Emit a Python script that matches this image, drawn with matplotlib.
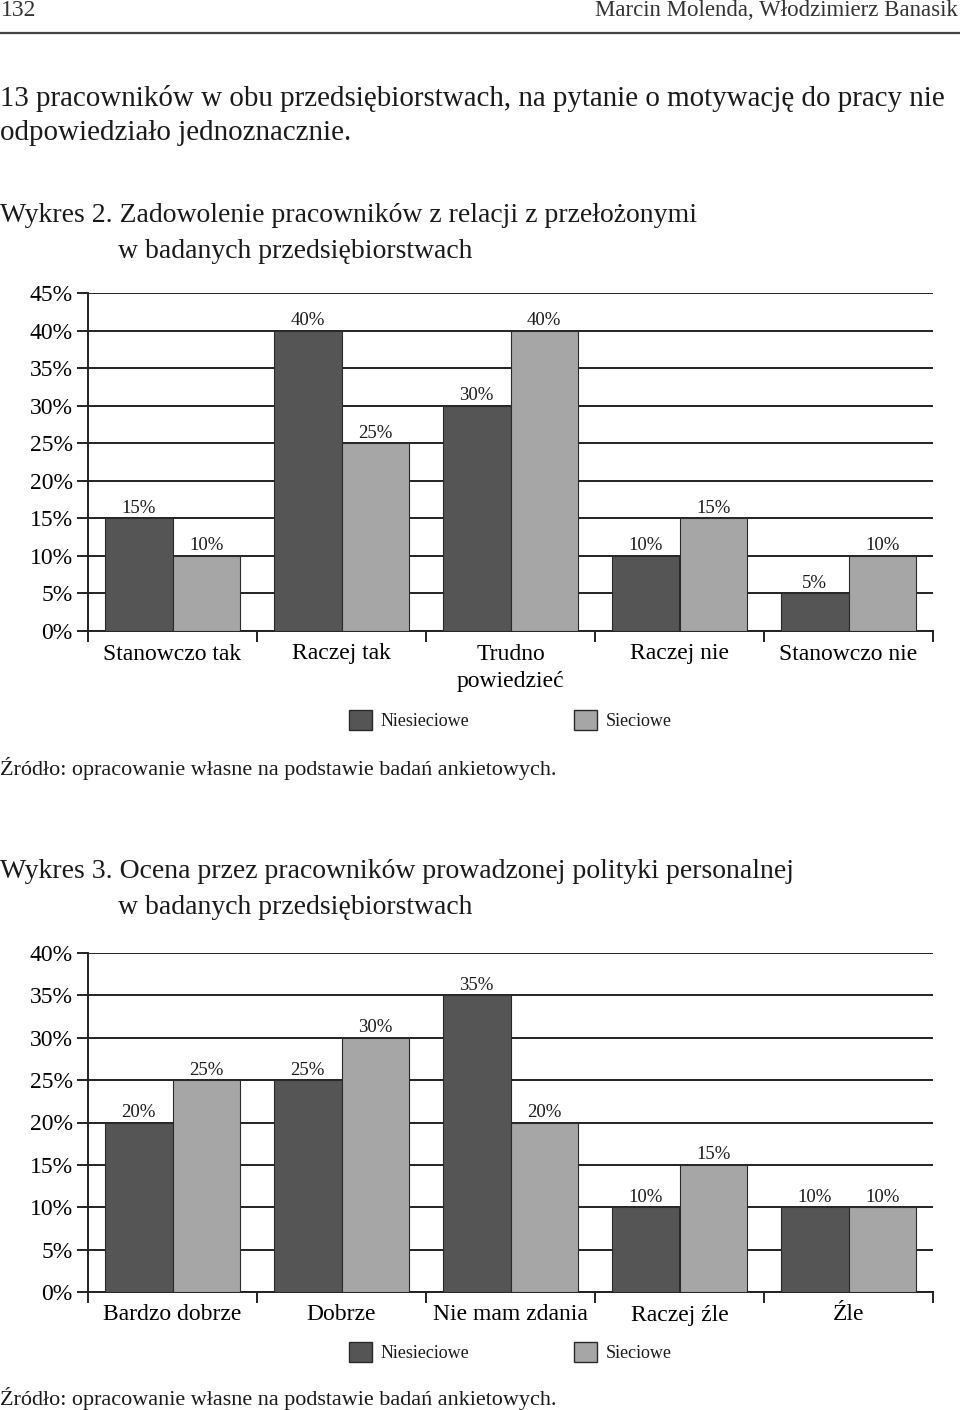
import numpy as np
import matplotlib
matplotlib.use("Agg")
import matplotlib.pyplot as plt
from matplotlib.patches import Patch

# page size in pixels
W, H = 960, 1410

# Wykres 2
cats_w2 = ["Stanowczo tak", "Raczej tak", "Trudno\npowiedzieć", "Raczej nie", "Stanowczo nie"]
niesieciowe_w2 = [15, 40, 30, 10, 5]
sieciowe_w2 = [10, 25, 40, 15, 10]

# Wykres 3
cats_w3 = ["Bardzo dobrze", "Dobrze", "Nie mam zdania", "Raczej źle", "Źle"]
niesieciowe_w3 = [20, 25, 35, 10, 10]
sieciowe_w3 = [25, 30, 20, 15, 10]

DARK = "#555555"
LIGHT = "#a6a6a6"
INK = "#1a1a1a"

plt.rcParams["font.family"] = ["Liberation Serif", "DejaVu Serif"]
plt.rcParams["text.color"] = INK


def fy(y):
    # pixel row -> figure fraction
    return 1 - y / H


def draw_chart(fig, top, bottom, ymax, cats, dark, light, legend_y):
    ax = fig.add_axes([88 / W, fy(bottom), (933 - 88) / W, (bottom - top) / H])
    x = np.arange(len(cats))
    b1 = ax.bar(x - 0.2, dark, 0.4, color=DARK, edgecolor="#2a2a2a", linewidth=0.8, zorder=3)
    b2 = ax.bar(x + 0.2, light, 0.4, color=LIGHT, edgecolor="#2a2a2a", linewidth=0.8, zorder=3)
    for bars, vals in ((b1, dark), (b2, light)):
        for rect, v in zip(bars, vals):
            ax.annotate(f"{v}%", (rect.get_x() + rect.get_width() / 2, v),
                        xytext=(0, 4), textcoords="offset points",
                        ha="center", va="baseline", fontsize=13.5, color=INK)

    ax.set_xlim(-0.5, len(cats) - 0.5)
    ax.set_ylim(0, ymax)
    yt = np.arange(0, ymax + 1, 5)
    ax.set_yticks(yt)
    ax.set_yticklabels([f"{t}%" for t in yt], fontsize=17)
    ax.yaxis.grid(True, color="#222222", linewidth=1.4, zorder=0)
    ax.set_axisbelow(True)
    for s in ("top", "right"):
        ax.spines[s].set_visible(False)
    for s in ("left", "bottom"):
        ax.spines[s].set_linewidth(1.4)
        ax.spines[s].set_color("#222222")
    ax.set_xticks(x)
    ax.set_xticklabels(cats, fontsize=17, linespacing=1.4)
    ax.set_xticks(np.arange(-0.5, len(cats)), minor=True)
    ax.tick_params(axis="x", which="major", length=0, pad=9)
    ax.tick_params(axis="x", which="minor", length=8, width=1.4, color="#222222")
    ax.tick_params(axis="y", length=8, width=1.4, color="#222222", pad=3)

    fig.legend([Patch(facecolor=DARK, edgecolor="#2a2a2a"), Patch(facecolor=LIGHT, edgecolor="#2a2a2a")],
               ["Niesieciowe", "Sieciowe"], loc="center", bbox_to_anchor=(510 / W, fy(legend_y)),
               ncol=2, frameon=False, fontsize=13, handlelength=1.3, handleheight=1.3,
               handletextpad=0.45, columnspacing=5.8)
    return ax


fig = plt.figure(figsize=(W / 100, H / 100), dpi=100)

# page header
fig.text(1 / W, fy(11), "132", fontsize=17, ha="left", va="center", color="#333333")
fig.text(958 / W, fy(11), "Marcin Molenda, Włodzimierz Banasik", fontsize=16.5,
         ha="right", va="center", color="#333333")
fig.add_artist(plt.Line2D([0, 1], [fy(33), fy(33)], color="#444444", linewidth=1.6))

fig.text(0, fy(98), "13 pracowników w obu przedsiębiorstwach, na pytanie o motywację do pracy nie",
         fontsize=20.9, ha="left", va="center")
fig.text(0, fy(133), "odpowiedziało jednoznacznie.", fontsize=20.9, ha="left", va="center")

# Wykres 2
fig.text(0, fy(215), "Wykres 2. Zadowolenie pracowników z relacji z przełożonymi",
         fontsize=20, ha="left", va="center")
fig.text(118 / W, fy(252), "w badanych przedsiębiorstwach", fontsize=20, ha="left", va="center")
draw_chart(fig, 293, 631, 45, cats_w2, niesieciowe_w2, sieciowe_w2, 720)
fig.text(0, fy(768), "Źródło: opracowanie własne na podstawie badań ankietowych.",
         fontsize=15.9, ha="left", va="center")

# Wykres 3
fig.text(0, fy(872), "Wykres 3. Ocena przez pracowników prowadzonej polityki personalnej",
         fontsize=20, ha="left", va="center")
fig.text(118 / W, fy(908), "w badanych przedsiębiorstwach", fontsize=20, ha="left", va="center")
draw_chart(fig, 953, 1292, 40, cats_w3, niesieciowe_w3, sieciowe_w3, 1352)
fig.text(0, fy(1398), "Źródło: opracowanie własne na podstawie badań ankietowych.",
         fontsize=15.9, ha="left", va="center")

fig.savefig("out.png", dpi=100, facecolor="white")
